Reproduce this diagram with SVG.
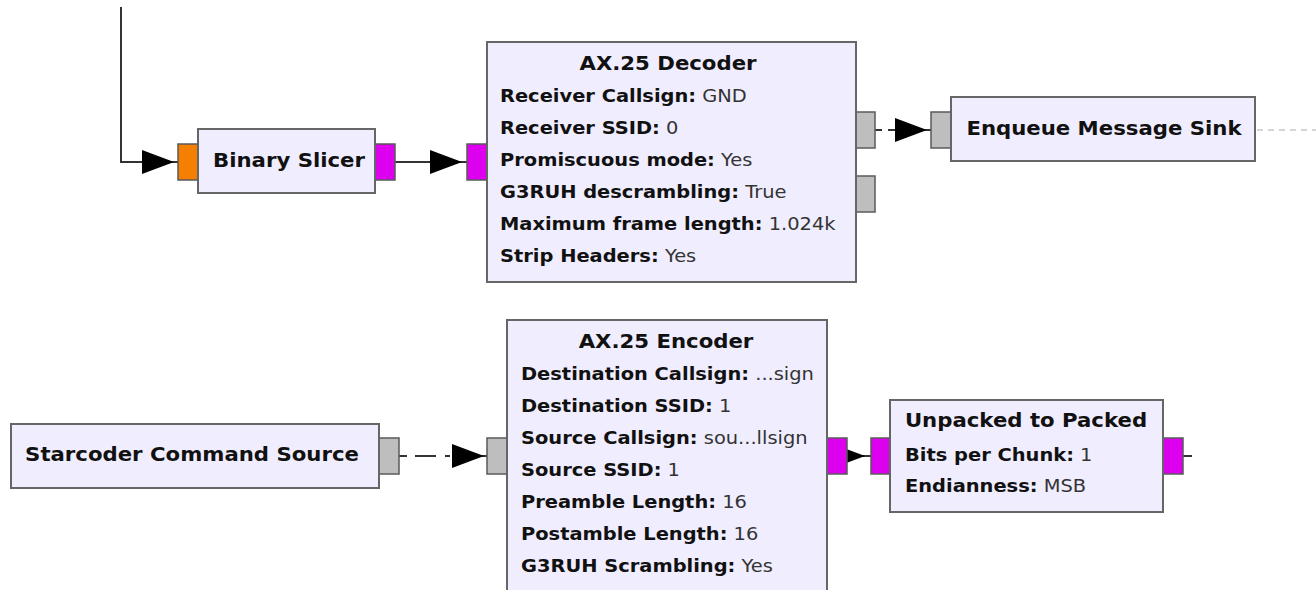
<svg xmlns="http://www.w3.org/2000/svg" xmlns:xlink="http://www.w3.org/1999/xlink" width="1316" height="590" viewBox="0 0 1316 590">
  <style>
    .block { fill: #f0edfe; stroke: #666666; stroke-width: 2; }
    .port { stroke: #5a5a5a; stroke-width: 1.5; }
    .float { fill: #f57f00; }
    .byte { fill: #dd00ee; }
    .msg { fill: #bebebe; }
    .wire { fill: none; stroke: #333333; stroke-width: 2; }
    .msgwire { fill: none; stroke: #333333; stroke-width: 2; }
    .ghost { fill: none; stroke: #c8c8c8; stroke-width: 1.5; stroke-dasharray: 6 5; }
    text { font-family: "DejaVu Sans", "Liberation Sans", sans-serif; font-size: 18px; fill: #111111;
           transform-box: fill-box; transform-origin: left center; transform: scaleX(1.08); }
    .title { font-size: 19.5px; font-weight: bold; text-anchor: middle;
             transform-origin: center; transform: scaleX(1.09); }
    .name { font-size: 19.5px; font-weight: bold; transform: scaleX(1.09); }
    .key { font-weight: bold; }
    .val { font-weight: normal; fill: #333333; }
  </style>
  <defs>
    <!-- arrowhead, tip at the origin, pointing right -->
    <polygon id="arrow" points="0,0 -32,-12 -32,12" fill="#000000"/>
  </defs>

  <rect width="1316" height="590" fill="#ffffff"/>

  <!-- connectors -->
  <g id="connectors">
    <path class="wire" d="M121,7 V162 H178"/>
    <use xlink:href="#arrow" transform="translate(174,162)"/>

    <path class="wire" d="M395,162 H467"/>
    <use xlink:href="#arrow" transform="translate(462,162)"/>

    <path class="msgwire" d="M875,130 H895" stroke-dasharray="7 6"/>
    <path class="msgwire" d="M920,130 H931"/>
    <use xlink:href="#arrow" transform="translate(927,130)"/>

    <path class="ghost" d="M1257,130 H1316"/>

    <path class="msgwire" d="M399,456 H450" stroke-dasharray="8 8 21 9"/>
    <path class="msgwire" d="M480,456 H487"/>
    <use xlink:href="#arrow" transform="translate(484,456)"/>

    <path class="wire" d="M847,456 H871"/>
    <use xlink:href="#arrow" transform="translate(865,456)"/>

    <path class="wire" d="M1183,456 H1192"/>
  </g>

  <!-- Binary Slicer -->
  <g id="binary_slicer">
    <rect class="port float" x="178" y="144" width="20" height="36"/>
    <rect class="port byte" x="375" y="144" width="20" height="36"/>
    <rect class="block" x="198" y="129" width="177" height="64"/>
    <text class="title" x="289" y="167">Binary Slicer</text>
  </g>

  <!-- AX.25 Decoder -->
  <g id="ax25_decoder">
    <rect class="port byte" x="467" y="144" width="20" height="36"/>
    <rect class="port msg" x="856" y="112" width="19" height="36"/>
    <rect class="port msg" x="856" y="176" width="19" height="36"/>
    <rect class="block" x="487" y="42" width="369" height="240"/>
    <text class="title" x="668" y="70">AX.25 Decoder</text>
    <text x="500" y="102"><tspan class="key">Receiver Callsign:</tspan><tspan class="val"> GND</tspan></text>
    <text x="500" y="134"><tspan class="key">Receiver SSID:</tspan><tspan class="val"> 0</tspan></text>
    <text x="500" y="166"><tspan class="key">Promiscuous mode:</tspan><tspan class="val"> Yes</tspan></text>
    <text x="500" y="198"><tspan class="key">G3RUH descrambling:</tspan><tspan class="val"> True</tspan></text>
    <text x="500" y="230"><tspan class="key">Maximum frame length:</tspan><tspan class="val"> 1.024k</tspan></text>
    <text x="500" y="262"><tspan class="key">Strip Headers:</tspan><tspan class="val"> Yes</tspan></text>
  </g>

  <!-- Enqueue Message Sink -->
  <g id="enqueue_message_sink">
    <rect class="port msg" x="931" y="112" width="20" height="36"/>
    <rect class="block" x="951" y="97" width="304" height="64"/>
    <text class="title" x="1104" y="135">Enqueue Message Sink</text>
  </g>

  <!-- Starcoder Command Source -->
  <g id="starcoder_command_source">
    <rect class="port msg" x="379" y="438" width="20" height="36"/>
    <rect class="block" x="11" y="424" width="368" height="64"/>
    <text class="title" x="192" y="461">Starcoder Command Source</text>
  </g>

  <!-- AX.25 Encoder -->
  <g id="ax25_encoder">
    <rect class="port msg" x="487" y="438" width="20" height="36"/>
    <rect class="port byte" x="827" y="438" width="20" height="36"/>
    <rect class="block" x="507" y="320" width="320" height="290"/>
    <text class="title" x="666" y="348">AX.25 Encoder</text>
    <text x="521" y="380"><tspan class="key">Destination Callsign:</tspan><tspan class="val"> ...sign</tspan></text>
    <text x="521" y="412"><tspan class="key">Destination SSID:</tspan><tspan class="val"> 1</tspan></text>
    <text x="521" y="444"><tspan class="key">Source Callsign:</tspan><tspan class="val"> sou...llsign</tspan></text>
    <text x="521" y="476"><tspan class="key">Source SSID:</tspan><tspan class="val"> 1</tspan></text>
    <text x="521" y="508"><tspan class="key">Preamble Length:</tspan><tspan class="val"> 16</tspan></text>
    <text x="521" y="540"><tspan class="key">Postamble Length:</tspan><tspan class="val"> 16</tspan></text>
    <text x="521" y="572"><tspan class="key">G3RUH Scrambling:</tspan><tspan class="val"> Yes</tspan></text>
  </g>

  <!-- Unpacked to Packed -->
  <g id="unpacked_to_packed">
    <rect class="port byte" x="871" y="438" width="19" height="36"/>
    <rect class="port byte" x="1163" y="438" width="20" height="36"/>
    <rect class="block" x="890" y="400" width="273" height="112"/>
    <text class="title" x="1026" y="427">Unpacked to Packed</text>
    <text x="905" y="461"><tspan class="key">Bits per Chunk:</tspan><tspan class="val"> 1</tspan></text>
    <text x="905" y="492"><tspan class="key">Endianness:</tspan><tspan class="val"> MSB</tspan></text>
  </g>
</svg>
